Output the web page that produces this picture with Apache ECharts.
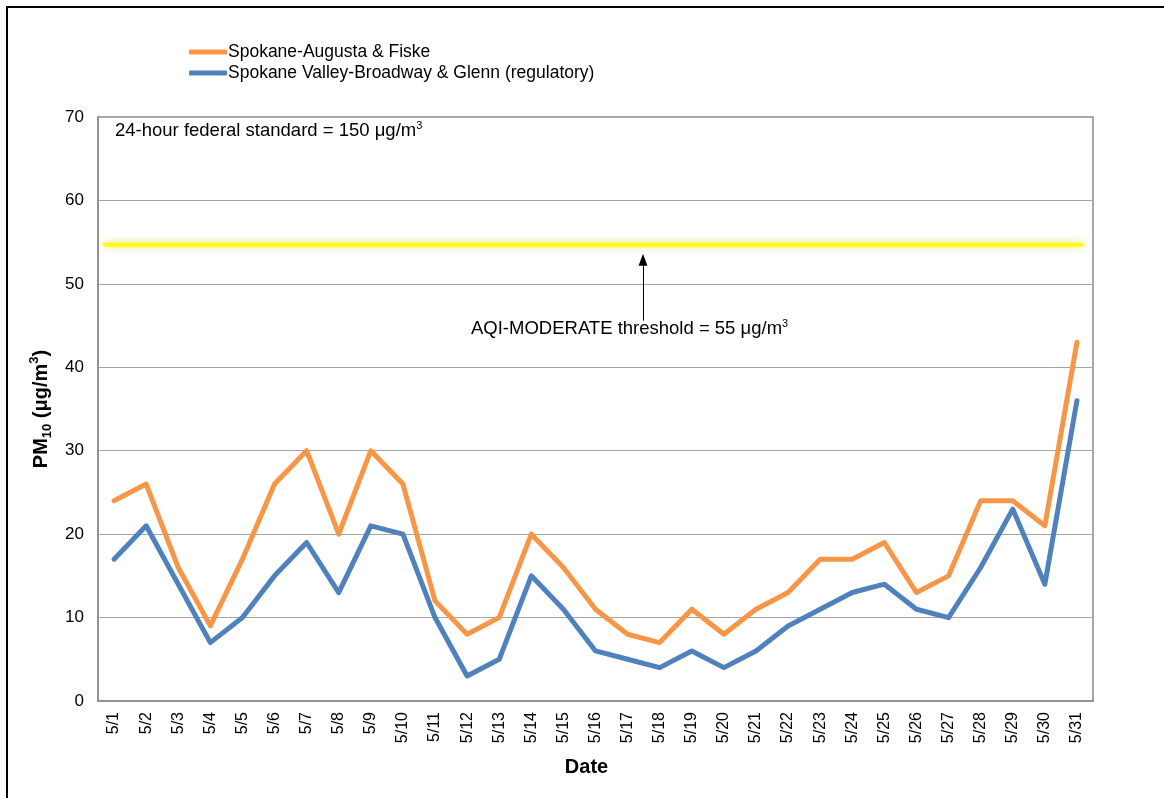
<!DOCTYPE html>
<html>
<head>
<meta charset="utf-8">
<script src="https://cdn.jsdelivr.net/npm/echarts@6/dist/echarts.min.js"></script>
<style>
html,body{margin:0;padding:0;background:#fff;}
#chart{width:1164px;height:798px;}
</style>
</head>
<body>
<div id="chart"></div>
<script>
const dates = ['5/1','5/2','5/3','5/4','5/5','5/6','5/7','5/8','5/9','5/10','5/11','5/12','5/13','5/14','5/15','5/16','5/17','5/18','5/19','5/20','5/21','5/22','5/23','5/24','5/25','5/26','5/27','5/28','5/29','5/30','5/31'];
const augustaFiske = [24,26,16,9,17,26,30,20,30,26,12,8,10,20,16,11,8,7,11,8,11,13,17,17,19,13,15,24,24,21,43];
const broadwayGlenn = [17,21,14,7,10,15,19,13,21,20,10,3,5,15,11,6,5,4,6,4,6,9,11,13,14,11,10,16,23,14,36];
const yTicks = [0,10,20,30,40,50,60,70];
const aqiLine = [[0.16,54.7],[30.69,54.7]];
const arrowLine = [[16.98,45.6],[16.98,52.9]];

const FONT = '"Liberation Sans", Arial, sans-serif';
const chart = echarts.init(document.getElementById('chart'));
chart.setOption({
  animation: false,
  textStyle: {fontFamily: FONT},
  grid: {left: 98, right: 71, top: 117, bottom: 97, show: true, borderColor: '#8c8c8c', borderWidth: 1.5, backgroundColor: '#fff'},
  legend: {
    orient: 'vertical', left: 184, top: 38, itemWidth: 38, itemHeight: 5, itemGap: 3,
    icon: 'roundRect',
    data: ['Spokane-Augusta & Fiske', 'Spokane Valley-Broadway & Glenn (regulatory)'],
    textStyle: {fontFamily: FONT, fontSize: 17.5, color: '#000', padding: [0,0,0,-4]}
  },
  xAxis: [{
    type: 'category', data: dates, boundaryGap: true,
    axisLine: {show: true, lineStyle: {color: '#8c8c8c', width: 1.5}},
    axisTick: {show: false},
    axisLabel: {rotate: 90, fontSize: 16, color: '#000', margin: 11, fontFamily: FONT, interval: 0},
    name: 'Date', nameLocation: 'middle', nameGap: 56,
    nameTextStyle: {fontSize: 20, fontWeight: 'bold', color: '#000', fontFamily: FONT, padding: [0, 18, 0, 0]}
  }, {
    type: 'value', min: 0, max: 31, show: false
  }],
  yAxis: {
    type: 'value', min: 0, max: 70, interval: 10,
    axisLine: {show: true, lineStyle: {color: '#8c8c8c', width: 1.5}},
    axisTick: {show: false},
    axisLabel: {fontSize: 17, color: '#000', margin: 14, fontFamily: FONT,
      formatter: v => yTicks.includes(v) ? String(v) : ''},
    splitLine: {lineStyle: {color: '#a6a6a6', width: 1.2}},
    name: '{b|PM}{sub|10}{b| (μg/m}{sup|3}{b|)}',
    nameLocation: 'middle', nameRotate: 90, nameGap: 42,
    nameTextStyle: {
      color: '#000', fontFamily: FONT,
      rich: {
        b: {fontSize: 20, fontWeight: 'bold', fontFamily: FONT, color: '#000', lineHeight: 26},
        sub: {fontSize: 13, fontWeight: 'bold', fontFamily: FONT, color: '#000', verticalAlign: 'bottom', lineHeight: 26, padding: [9,0,0,0]},
        sup: {fontSize: 13, fontWeight: 'bold', fontFamily: FONT, color: '#000', verticalAlign: 'top', lineHeight: 26, padding: [0,0,9,0]}
      }
    }
  },
  series: [{
    name: 'AQI', type: 'line', xAxisIndex: 1, data: aqiLine, showSymbol: false, silent: true,
    lineStyle: {color: '#ffff00', width: 4, shadowColor: 'rgba(190,190,0,0.55)', shadowBlur: 8},
    markLine: {
      silent: true, symbol: ['none', 'triangle'], symbolSize: [9, 12],
      label: {show: false},
      lineStyle: {color: '#000', width: 1, type: 'solid'},
      data: [[{coord: arrowLine[0]}, {coord: arrowLine[1]}]]
    }
  }, {
    name: 'Spokane Valley-Broadway & Glenn (regulatory)', type: 'line', data: broadwayGlenn,
    showSymbol: false, symbol: 'none', itemStyle: {color: '#4f81bd'},
    lineStyle: {color: '#4f81bd', width: 5, cap: 'round', join: 'round'}
  }, {
    name: 'Spokane-Augusta & Fiske', type: 'line', data: augustaFiske,
    showSymbol: false, symbol: 'none', itemStyle: {color: '#f79646'},
    lineStyle: {color: '#f79646', width: 5, cap: 'round', join: 'round'}
  }],
  graphic: [{
    type: 'rect', shape: {x: 7, y: 7, width: 1170, height: 800},
    style: {fill: 'none', stroke: '#000', lineWidth: 2}, silent: true, z: -10
  }, {
    type: 'text', left: 115, top: 120, z: 100,
    style: {
      text: '{t|24-hour federal standard = 150 μg/m}{s|3}',
      rich: {t: {fontSize: 18.5, fontFamily: FONT, fill: '#000', lineHeight: 22}, s: {fontSize: 11, fontFamily: FONT, fill: '#000', verticalAlign: 'top', lineHeight: 22, padding: [0,0,9,0]}}
    }
  }, {
    type: 'text', left: 471, top: 318, z: 100,
    style: {
      text: '{t|AQI-MODERATE threshold = 55 μg/m}{s|3}',
      rich: {t: {fontSize: 18.5, fontFamily: FONT, fill: '#000', lineHeight: 22}, s: {fontSize: 11, fontFamily: FONT, fill: '#000', verticalAlign: 'top', lineHeight: 22, padding: [0,0,9,0]}}
    }
  }]
});
</script>
</body>
</html>
